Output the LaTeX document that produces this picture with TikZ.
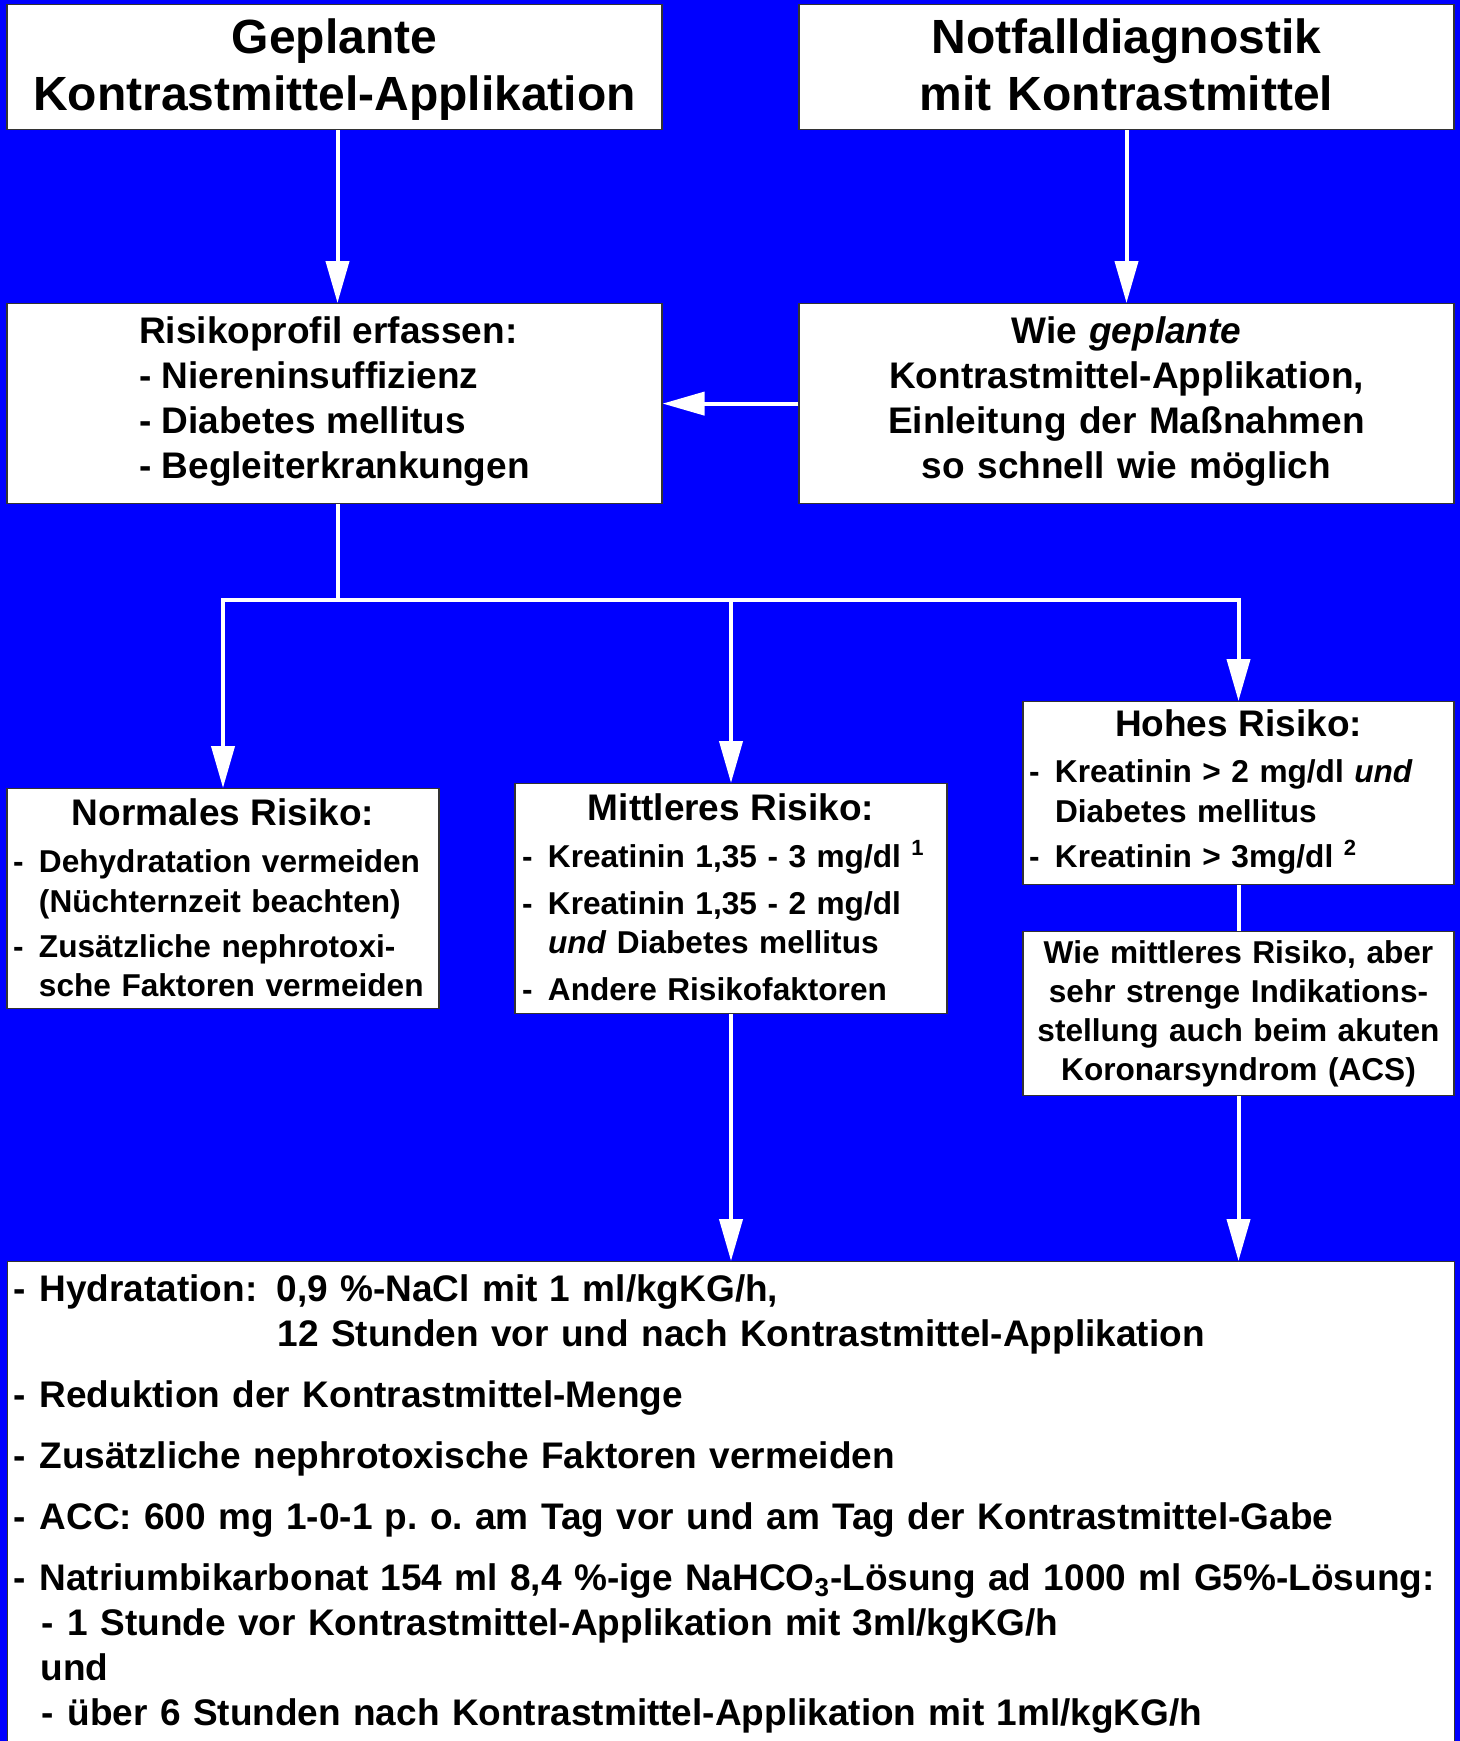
\documentclass[tikz,border=0pt]{standalone}
\usepackage{fontspec}
\setmainfont{Liberation Sans}
\usetikzlibrary{arrows.meta}
\frenchspacing
\definecolor{hintergrund}{RGB}{0,0,255}
\newcommand{\grossschrift}{\fontsize{24pt}{28.5pt}\selectfont\bfseries}
\newcommand{\mittelschrift}{\fontsize{18.5pt}{22.5pt}\selectfont\bfseries}
\newcommand{\kleinschrift}{\fontsize{15.8pt}{19.5pt}\selectfont\bfseries}
\newcommand{\kopf}[1]{\makebox[\linewidth][c]{\mittelschrift #1}}
\newcommand{\strich}{\makebox[13pt][l]{-}}
\newcommand{\hochz}[1]{\raisebox{6pt}{\fontsize{11pt}{11pt}\selectfont #1}}
\newcommand{\oben}[1]{\rule{0pt}{#1}}
\newcommand{\unten}[1]{\rule[-#1]{0pt}{#1}}

\begin{document}
\begin{tikzpicture}[x=0.5pt,y=-0.5pt,
        kasten/.style={draw=black!80, line width=0.6pt, fill=white, inner xsep=0pt, inner ysep=0pt, anchor=north},
        linie/.style={draw=white, line width=2pt},
        pfeil/.style={linie, -{Triangle[length=21pt,width=11.5pt]}}]
        \fill[hintergrund] (0,0) rectangle (1460,1741);
        \useasboundingbox (0,0) rectangle (1460,1741);
        \clip (0,0) rectangle (1460,1741);
        % obere Reihe
        \node[kasten, font=\grossschrift, text width=327.5pt, align=center] (geplant) at (334.5,4)
            {\oben{24.5pt}Geplante\\Kontrastmittel-Applikation\unten{9.5pt}};
        \node[kasten, font=\grossschrift, text width=327.5pt, align=center] (notfall) at (1126.5,4)
            {\oben{24.5pt}Notfalldiagnostik\\mit Kontrastmittel\unten{9.5pt}};
        \node[kasten, font=\mittelschrift, minimum width=327.5pt, align=left] (risiko) at (334.5,303)
            {\oben{20pt}Risikoprofil erfassen:\\- Niereninsuffizienz\\- Diabetes mellitus\\- Begleiterkrankungen\unten{12.5pt}};
        \node[kasten, font=\mittelschrift, text width=327.5pt, align=center] (wiegeplant) at (1126.5,303)
            {\oben{20pt}Wie \textit{geplante}\\Kontrastmittel-Applikation,\\Einleitung der Maßnahmen\\so schnell wie möglich\unten{12.5pt}};
        % Risikogruppen
        \node[kasten, font=\kleinschrift, inner xsep=3pt, text width=210pt, align=left] (normal) at (223,788)
            {\oben{18.5pt}\kopf{Normales Risiko:}\\[4pt]
             \strich Dehydratation vermeiden\\[0.5pt]
             \hspace*{13pt}(Nüchternzeit beachten)\\[3pt]
             \strich Zusätzliche nephrotoxi-\\
             \hspace*{13pt}sche Faktoren vermeiden\unten{6pt}};
        \node[kasten, font=\kleinschrift, inner xsep=3.5pt, text width=209pt, align=left] (mittel) at (731,783)
            {\oben{18.5pt}\kopf{Mittleres Risiko:}\\[4pt]
             \strich Kreatinin 1,35 - 3 mg/dl \hochz{1}\\[4pt]
             \strich Kreatinin 1,35 - 2 mg/dl\\
             \hspace*{13pt}\textit{und} Diabetes mellitus\\[4pt]
             \strich Andere Risikofaktoren\unten{6.5pt}};
        \node[kasten, font=\kleinschrift, inner xsep=3pt, text width=209.5pt, align=left] (hoch) at (1238.5,701)
            {\oben{17.5pt}\kopf{Hohes Risiko:}\\[3.5pt]
             \strich Kreatinin > 2 mg/dl \textit{und}\\[0.5pt]
             \hspace*{13pt}Diabetes mellitus\\[3pt]
             \strich Kreatinin > 3mg/dl \hochz{2}\unten{8.5pt}};
        \node[kasten, font=\kleinschrift, text width=215.5pt, align=center] (streng) at (1238.5,931)
            {\oben{16pt}Wie mittleres Risiko, aber\\sehr strenge Indikations-\\stellung auch beim akuten\\Koronarsyndrom (ACS)\unten{7.5pt}};
        % Massnahmen
        \node[kasten, anchor=north west, font=\mittelschrift, inner xsep=3pt, text width=717.5pt, align=left] (massnahmen) at (7,1261)
            {\oben{20pt}\strich\makebox[118.5pt][l]{Hydratation:}0,9 \%-NaCl mit 1 ml/kgKG/h,\\
             \hspace*{132pt}12 Stunden vor und nach Kontrastmittel-Applikation\\[8pt]
             \strich Reduktion der Kontrastmittel-Menge\\[8pt]
             \strich Zusätzliche nephrotoxische Faktoren vermeiden\\[8pt]
             \strich ACC: 600 mg 1-0-1 p. o. am Tag vor und am Tag der Kontrastmittel-Gabe\\[8pt]
             \strich Natriumbikarbonat 154 ml 8,4 \%-ige NaHCO\textsubscript{3}-Lösung ad 1000 ml G5\%-Lösung:\\
             \hspace*{14pt}\strich 1 Stunde vor Kontrastmittel-Applikation mit 3ml/kgKG/h\\
             \hspace*{13.5pt}und\\
             \hspace*{14pt}\strich über 6 Stunden nach Kontrastmittel-Applikation mit 1ml/kgKG/h\unten{20pt}};
        \coordinate (ast) at (337.5,600);
        \draw[pfeil] (geplant.south -| ast) -- (risiko.north -| ast);
        \draw[pfeil] (notfall) -- (wiegeplant);
        \draw[pfeil] (wiegeplant) -- (risiko);
        \draw[linie] (risiko.south -| ast) -- (ast);
        \draw[pfeil] (ast) -| (normal);
        \draw[pfeil] (ast) -| (mittel);
        \draw[pfeil] (ast) -| (hoch);
        \draw[linie] (hoch) -- (streng);
        \draw[pfeil] (mittel) -- (mittel |- massnahmen.north);
        \draw[pfeil] (streng) -- (streng |- massnahmen.north);
\end{tikzpicture}
\end{document}
